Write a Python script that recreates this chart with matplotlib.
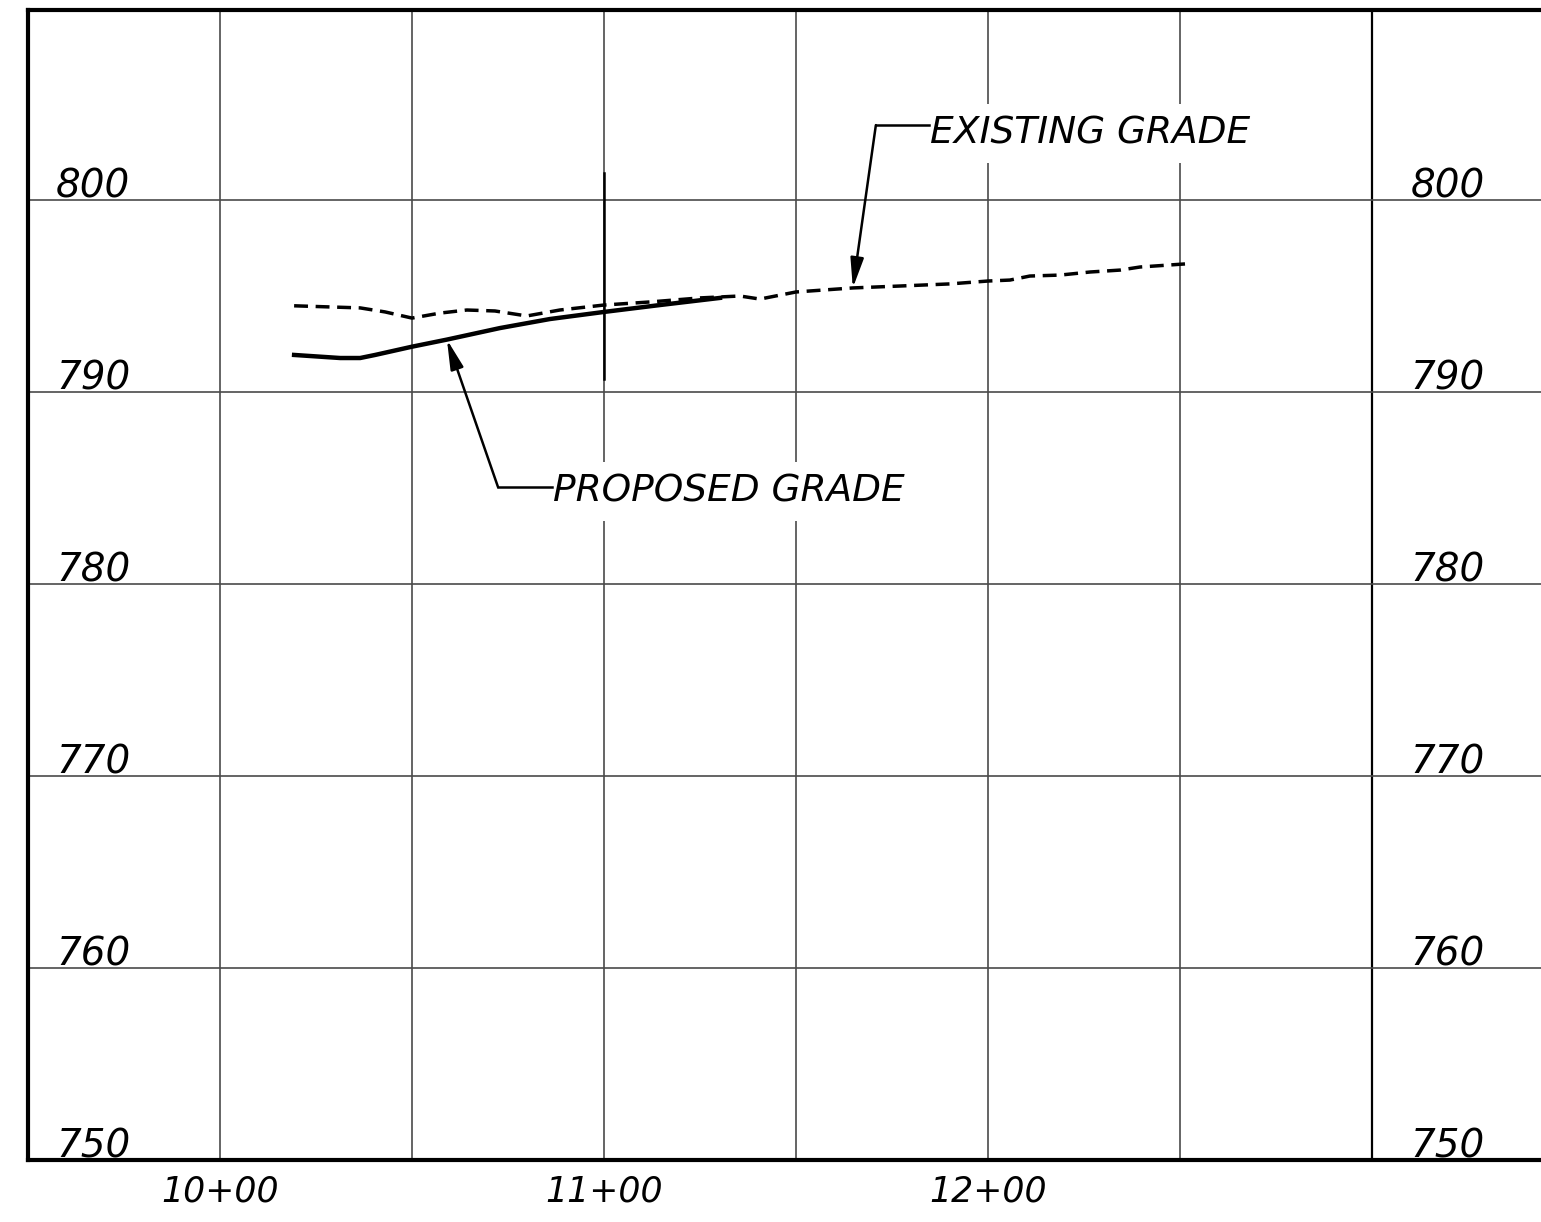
import matplotlib.pyplot as plt
import matplotlib.transforms as mtransforms

# existing grade (dashed)
exist_sta = [1019.3, 1028.6, 1036.5, 1043.0, 1050.0, 1057.3, 1064.3, 1071.6, 1079.9,
             1088.5, 1100.0, 1112.0, 1125.0, 1135.4, 1140.6, 1150.0, 1164.8, 1177.1,
             1190.1, 1200.0, 1205.7, 1210.9, 1218.8, 1226.6, 1234.4, 1239.6, 1251.3]
exist_elev = [794.49, 794.43, 794.38, 794.17, 793.85, 794.11, 794.27, 794.22, 793.96,
              794.27, 794.53, 794.69, 794.90, 795.00, 794.84, 795.21, 795.42, 795.52,
              795.63, 795.78, 795.83, 796.04, 796.09, 796.25, 796.35, 796.51, 796.67]

# proposed grade (solid)
prop_sta = [1019.3, 1031.3, 1036.5, 1040.4, 1050.0, 1059.1, 1072.9, 1085.9, 1100.0,
            1114.6, 1130.2]
prop_elev = [791.93, 791.77, 791.77, 791.93, 792.36, 792.73, 793.33, 793.80, 794.17,
             794.53, 794.90]

grid_sta = [1000, 1050, 1100, 1150, 1200, 1250, 1300]
grid_elev = [750, 760, 770, 780, 790, 800]
sta_labels = {1000: '10+00', 1100: '11+00', 1200: '12+00'}

font = dict(family='DejaVu Sans', style='italic')

fig = plt.figure(figsize=(15.41, 12.22), dpi=100)
ax = fig.add_axes([28/1541, 62/1222, 1513/1541, 1150/1222])
ax.set_xlim(950, 950 + 1513/3.84)
ax.set_ylim(750, 750 + 1150/19.2)

# grid
for s in grid_sta:
    if s == 1300:
        ax.axvline(s, color='black', lw=1.6, zorder=1)
    else:
        ax.axvline(s, color='#4a4a4a', lw=1.2, zorder=1)
for e in grid_elev:
    ax.axhline(e, color='#4a4a4a', lw=1.2, zorder=1)
ax.plot([1100, 1100], [790.7, 801.4], color='black', lw=1.8, zorder=1)

# elevation labels both sides
for e in grid_elev:
    ax.text(976.6, e + 0.15, str(e), ha='right', va='baseline', fontsize=28, **font)
    ax.text(1329.4, e + 0.15, str(e), ha='right', va='baseline', fontsize=28, **font)

# station labels
trans = mtransforms.blended_transform_factory(ax.transData, fig.transFigure)
for s, lab in sta_labels.items():
    ax.text(s, 1 - 1192/1222, lab, ha='center', va='center', fontsize=25,
            transform=trans, **font)

# profiles
ax.plot(exist_sta, exist_elev, color='black', lw=2.5, dashes=(4, 2.2), zorder=3)
ax.plot(prop_sta, prop_elev, color='black', lw=3.2, zorder=4)

# callouts
arrow = dict(arrowstyle='-|>,head_length=0.9,head_width=0.2', color='black', lw=1.8,
             mutation_scale=20, shrinkA=0, shrinkB=0)
ax.annotate('', xy=(1164.8, 795.42), xytext=(1170.8, 803.9), arrowprops=arrow, zorder=5)
ax.plot([1170.8, 1184.6], [803.9, 803.9], color='black', lw=1.8, zorder=7)
ax.text(1185.0, 802.95, 'EXISTING GRADE', ha='left', va='baseline', fontsize=27,
        bbox=dict(facecolor='white', edgecolor='none', pad=8), zorder=6, **font)

ax.annotate('', xy=(1059.1, 792.73), xytext=(1072.4, 785.05), arrowprops=arrow, zorder=5)
ax.plot([1072.4, 1086.4], [785.05, 785.05], color='black', lw=1.8, zorder=7)
ax.text(1086.6, 784.3, 'PROPOSED GRADE', ha='left', va='baseline', fontsize=27,
        bbox=dict(facecolor='white', edgecolor='none', pad=8), zorder=6, **font)

ax.set_xticks([])
ax.set_yticks([])
for side in ['left', 'top', 'bottom']:
    ax.spines[side].set_linewidth(3)
ax.spines['right'].set_visible(False)

fig.savefig('out.png', dpi=100)
